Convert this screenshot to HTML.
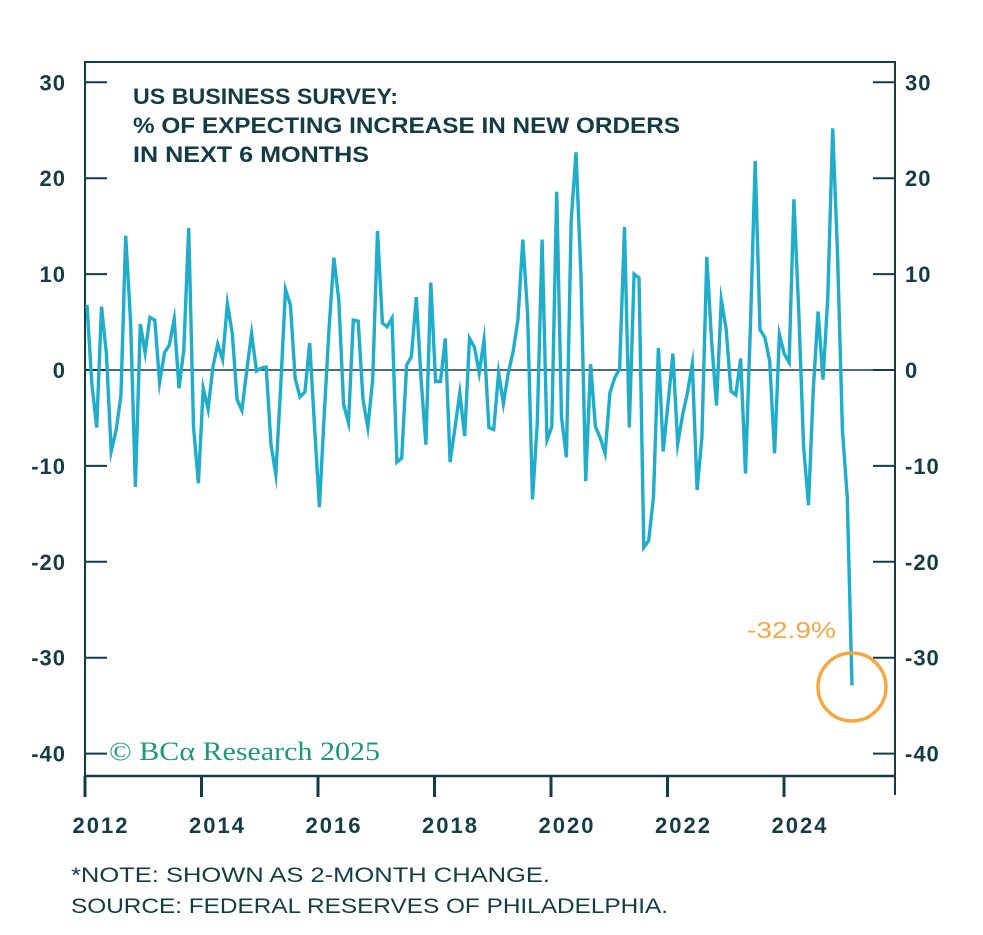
<!DOCTYPE html>
<html><head><meta charset="utf-8"><style>
body{margin:0;background:#fff;}
svg text{font-family:"Liberation Sans",sans-serif;}
</style></head><body>
<svg id="chart" width="983" height="930" viewBox="0 0 983 930" xmlns="http://www.w3.org/2000/svg">
<rect width="983" height="930" fill="#fff"/>
<g id="axes"></g>
<path id="series" fill="none" stroke="#20adc9" stroke-width="3.4" stroke-linejoin="miter" stroke-miterlimit="10"/>
<text x="133" y="104" font-size="22" font-weight="bold" fill="#133c44" textLength="265" lengthAdjust="spacingAndGlyphs">US BUSINESS SURVEY:</text>
<text x="133" y="133" font-size="22" font-weight="bold" fill="#133c44" textLength="547" lengthAdjust="spacingAndGlyphs">% OF EXPECTING INCREASE IN NEW ORDERS</text>
<text x="133" y="162" font-size="22" font-weight="bold" fill="#133c44" textLength="236" lengthAdjust="spacingAndGlyphs">IN NEXT 6 MONTHS</text>
<text x="109" y="760" font-size="26" fill="#1a9a78" style="font-family:'Liberation Serif',serif" textLength="271" lengthAdjust="spacingAndGlyphs">© BCα Research 2025</text>
<text x="747" y="638" font-size="23" fill="#f5a742" textLength="89" lengthAdjust="spacingAndGlyphs">-32.9%</text>
<circle cx="852" cy="687" r="34" fill="none" stroke="#f5a742" stroke-width="3.5"/>
<text x="71" y="882" font-size="21" fill="#133c44" textLength="479" lengthAdjust="spacingAndGlyphs">*NOTE: SHOWN AS 2-MONTH CHANGE.</text>
<text x="71" y="913" font-size="21" fill="#133c44" textLength="597" lengthAdjust="spacingAndGlyphs">SOURCE: FEDERAL RESERVES OF PHILADELPHIA.</text>
</svg>
<script>
const startYear = 2012;
const values = [6.8,-1.4,-6,6.6,1.7,-8.5,-6.3,-2.7,14,5,-12.2,4.8,1.8,5.5,5.2,-1.3,1.8,2.6,5.3,-1.9,2.1,14.8,-5.9,-11.8,-1.9,-4.1,0.3,2.7,1.1,6.9,3.8,-3.1,-4.2,0,3.8,-0.1,0.2,0.3,-7.8,-10.9,-1.7,8.4,6.8,-0.9,-2.8,-2.3,2.8,-6,-14.3,-4.5,4.4,11.7,7.3,-3.6,-5.5,
5.2,5.1,-3.1,-6,-1,14.5,4.9,4.5,5.4,-9.6,-9.2,0.5,1.4,7.6,-1,-7.8,9.1,-1.2,-1.2,3.3,-9.6,-6,-2.4,-6.9,3.3,2.4,-0.3,3.1,-6,-6.2,-0.3,-3.5,-0.3,1.9,5.2,13.6,5.9,-13.5,-5.5,13.6,-7.3,-5.9,18.6,-4.9,-9.1,15.6,22.7,10.1,-11.6,0.6,-5.9,-7.1,-8.7,
-2.4,-0.8,0.1,14.9,-6,10,9.6,-18.5,-17.8,-13.2,2.3,-8.5,-3.5,1.7,-7.7,-4.7,-2.4,0.6,-12.5,-7,11.8,3,-3.7,7.3,4.3,-2.2,-2.6,1.2,-10.8,4.5,21.8,4.2,3.4,0.9,-8.7,3.7,1.7,0.8,17.8,6,-8,-14.1,-2,6.1,-1,7.6,25.2,12.2,-6.2,-13.2,-32.9];
const yTicks = [30,20,10,0,-10,-20,-30,-40];
const yTickLabels = ["30","20","10","0","-10","-20","-30","-40"];
const xTickYears = [2012,2014,2016,2018,2020,2022,2024];

const NS="http://www.w3.org/2000/svg";
const L=85,R=895,T=62,B=776;
function xScale(i){return 87+i*4.842;}
function xYear(yr){return L+(yr-startYear)*58.25;}
function yScale(v){return 370-v*9.59;}
function mk(tag,attrs,parent){const e=document.createElementNS(NS,tag);for(const k in attrs)e.setAttribute(k,attrs[k]);parent.appendChild(e);return e;}
const ax=document.getElementById('axes');
const C="#133c44";
let e;
e=mk('path',{d:`M${L},795 V${T} H${R} V795`,fill:'none',stroke:C,'stroke-width':2},ax);


e=mk('line',{x1:L,x2:R,y1:B,y2:B,stroke:C,'stroke-width':2.5},ax);


e=mk('line',{x1:L,x2:R,y1:yScale(0),y2:yScale(0),stroke:C,'stroke-width':1.5},ax);


yTicks.forEach((v,k)=>{
  const y=yScale(v);
  e=mk('line',{x1:L,x2:L+22,y1:y,y2:y,stroke:C,'stroke-width':2},ax);
  
  
  e=mk('line',{x1:R-22,x2:R,y1:y,y2:y,stroke:C,'stroke-width':2},ax);
  
  
  e=mk('text',{x:66,y:y+8,'text-anchor':'end','font-size':22,'font-weight':'bold',fill:C,'letter-spacing':1},ax);
  e.textContent=yTickLabels[k];
  
  
  e=mk('text',{x:905,y:y+8,'text-anchor':'start','font-size':22,'font-weight':'bold',fill:C,'letter-spacing':1},ax);
  e.textContent=yTickLabels[k];
  
  
});
e=mk('line',{x1:L,x2:L+22,y1:B,y2:B,stroke:C,'stroke-width':2},ax);
xTickYears.forEach(yr=>{
  const x=xYear(yr);
  e=mk('line',{x1:x,x2:x,y1:B,y2:797,stroke:C,'stroke-width':3},ax);
  
  
  e=mk('text',{x:x+16,y:833,'text-anchor':'middle','font-size':22,'font-weight':'bold',fill:C,'letter-spacing':2},ax);
  e.textContent=String(yr);
  
  
});
document.getElementById('series').setAttribute('d',values.map((v,i)=>(i?'L':'M')+xScale(i).toFixed(1)+','+yScale(v).toFixed(1)).join(' '));
</script>
</body></html>
